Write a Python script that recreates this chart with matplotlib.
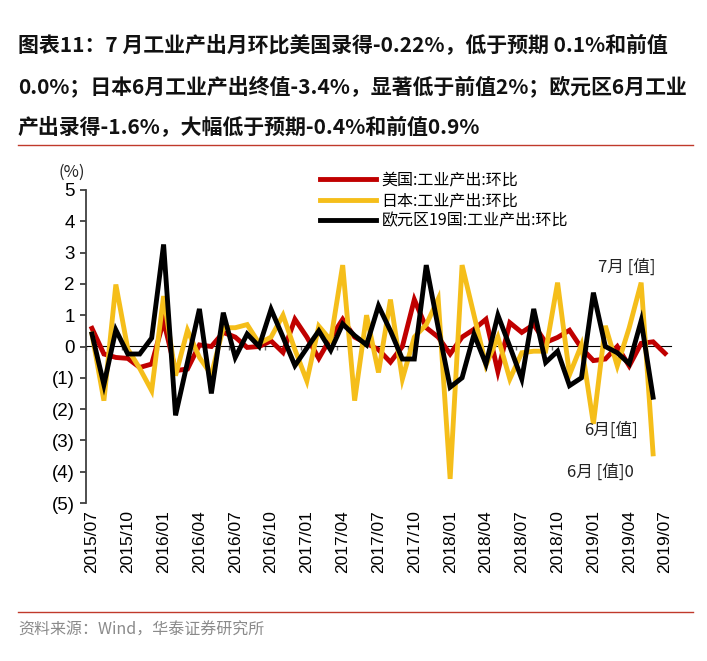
import matplotlib
matplotlib.use('Agg')
import matplotlib.pyplot as plt
import numpy as np

plt.rcParams['font.family'] = ['Noto Sans CJK SC', 'DejaVu Sans']

# 2015/07 .. 2019/07, month-on-month %
us = [0.58, -0.24, -0.35, -0.38, -0.67, -0.56, 0.82, -0.77, -0.72, 0.05, 0.0, 0.45,
      0.3, -0.03, 0.0, 0.18, -0.19, 0.87, 0.3, -0.38, 0.28, 0.87, 0.3, 0.1,
      -0.1, -0.5, 0.0, 1.5, 0.6, 0.3, -0.24, 0.3, 0.55, 0.87, -0.8, 0.76,
      0.45, 0.7, 0.13, 0.29, 0.52, -0.05, -0.45, -0.4, 0.0, -0.62, 0.1, 0.15, -0.22]
jp = [0.4, -1.73, 1.98, -0.08, -0.7, -1.41, 1.61, -0.93, 0.52, -0.35, -0.9, 0.6,
      0.6, 0.7, 0.1, 0.3, 1.0, -0.1, -1.1, 0.65, 0.2, 2.6, -1.73, 1.0,
      -0.83, 1.5, -1.04, 0.3, 0.7, 1.52, -4.23, 2.6, 1.0, -0.6, 0.3, -1.04,
      -0.2, -0.15, -0.15, 2.04, -0.9, 0.05, -2.47, 0.66, -0.62, 0.6, 2.04, -3.43]
eu = [0.4, -1.22, 0.53, -0.24, -0.24, 0.27, 3.26, -2.2, -0.5, 1.2, -1.5, 1.08,
      -0.35, 0.4, 0.0, 1.19, 0.3, -0.61, -0.05, 0.5, -0.12, 0.72, 0.35, 0.05,
      1.3, 0.5, -0.4, -0.4, 2.6, 0.6, -1.3, -1.0, 0.39, -0.56, 1.0, 0.0,
      -1.04, 1.2, -0.51, -0.15, -1.25, -1.0, 1.72, 0.0, -0.2, -0.55, 0.82, -1.62]

tick_labels = ['2015/07', '2015/10', '2016/01', '2016/04', '2016/07', '2016/10',
               '2017/01', '2017/04', '2017/07', '2017/10', '2018/01', '2018/04',
               '2018/07', '2018/10', '2019/01', '2019/04', '2019/07']
y_ticks = [5, 4, 3, 2, 1, 0, -1, -2, -3, -4, -5]
y_labels = ['5', '4', '3', '2', '1', '0', '(1)', '(2)', '(3)', '(4)', '(5)']

names = ['美国:工业产出:环比', '日本:工业产出:环比', '欧元区19国:工业产出:环比']
colors = ['#C00000', '#F5BE1A', '#000000']

W, H = 707, 661
fig = plt.figure(figsize=(W / 100, H / 100), dpi=100)

# title, shrunk so the widest line ends near the rule's right end
title = ['图表11：7 月工业产出月环比美国录得-0.22%，低于预期 0.1%和前值',
         '0.0%；日本6月工业产出终值-3.4%，显著低于前值2%；欧元区6月工业',
         '产出录得-1.6%，大幅低于预期-0.4%和前值0.9%']
tt = [fig.text(18 / W, 1 - yy / H, line, fontsize=16, fontweight='bold',
               va='center', ha='left', color='#111111')
      for line, yy in zip(title, [45, 86, 127])]
r = fig.canvas.get_renderer()
widest = max(t.get_window_extent(r).width for t in tt)
for t in tt:
    t.set_fontsize(16 * 672 / widest)

fig.add_artist(plt.Line2D([18 / W, 693 / W], [1 - 145 / H] * 2, color='#C0392B', lw=1))
fig.add_artist(plt.Line2D([18 / W, 693 / W], [1 - 612 / H] * 2, color='#C0392B', lw=1))
fig.text(18 / W, 1 - 630 / H, '资料来源：Wind，华泰证券研究所', fontsize=11.5,
         color='#8A8A8A', va='center', ha='left')

ax = fig.add_axes([86 / W, 1 - 503 / H, (671 - 86) / W, (503 - 190) / H])

x_us = np.arange(len(us))
x_jp = np.arange(len(jp))
x_eu = np.arange(len(eu))
ax.plot(x_us, us, color=colors[0], lw=3.5, label=names[0], solid_joinstyle='miter')
ax.plot(x_jp, jp, color=colors[1], lw=3.5, label=names[1], solid_joinstyle='miter')
ax.plot(x_eu, eu, color=colors[2], lw=3.5, label=names[2], solid_joinstyle='miter')

ax.set_xlim(-0.5, 48.5)
ax.set_ylim(-5, 5)
ax.set_yticks(y_ticks)
ax.set_yticklabels(y_labels, family='Liberation Sans', fontsize=13.5)
ax.set_xticks(np.arange(0, 49, 3))
ax.set_xticklabels(tick_labels, rotation=90, family='Liberation Sans', fontsize=12.5)
ax.tick_params(axis='x', length=0, pad=5)
ax.tick_params(axis='y', length=4, width=1.3, color='#404040', direction='out', pad=4)

for s in ['top', 'right', 'bottom']:
    ax.spines[s].set_visible(False)
ax.spines['left'].set_color('#404040')
ax.spines['left'].set_linewidth(1.3)

# zero line with small category ticks
sec = ax.secondary_xaxis(0.5)
sec.spines['bottom'].set_color('#6E6E6E')
sec.spines['bottom'].set_linewidth(1.3)
sec.set_xticks(np.arange(-0.5, 49, 3))
sec.xaxis.set_ticklabels([])
sec.tick_params(axis='x', direction='in', length=3, width=1, color='#6E6E6E')
sec.set_zorder(0)

ax.text(-0.6, 5.3, '(%)', fontsize=12, ha='right', va='bottom', color='#222222')

ax.legend(loc='upper left', bbox_to_anchor=((320 - 86) / 585, 1 + 18 / 313),
          frameon=False, fontsize=11.5, handlelength=3.5, handletextpad=0.35,
          labelspacing=0.2, borderaxespad=0, borderpad=0)

ax.text(47.2, 2.54, '7月 [值]', fontsize=12, ha='right', va='center', color='#222222')
ax.text(45.7, -2.68, '6月[值]', fontsize=12, ha='right', va='center', color='#222222')
ax.text(45.4, -4.02, '6月 [值]0', fontsize=12, ha='right', va='center', color='#222222')

fig.savefig('out.png', dpi=100, facecolor='white')
